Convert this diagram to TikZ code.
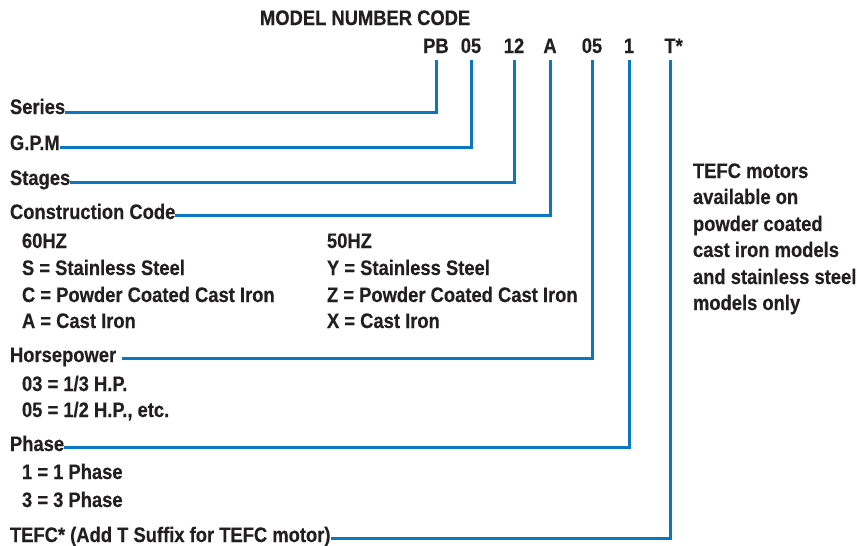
\documentclass[tikz,border=0pt]{standalone}
\usepackage{fontspec}
\setmainfont{Liberation Sans}[FakeStretch=0.875,BoldFeatures={FakeBold=0.4}]
\definecolor{lineblue}{HTML}{0A77C0}
\definecolor{txt}{HTML}{231F20}
\begin{document}
\begin{tikzpicture}[x=1pt,y=-1pt,
  lbl/.style={anchor=base west, inner sep=0pt, outer sep=0pt, font=\fontsize{21}{24}\selectfont\bfseries, text=txt},
  code/.style={anchor=base, inner sep=0pt, outer sep=0pt, font=\fontsize{21}{24}\selectfont\bfseries, text=txt},
  conn/.style={draw=lineblue, line width=3pt, line join=miter}]
\useasboundingbox (0,0) rectangle (857,546);

% title and code row
\node[lbl] (title) at (260,25) {MODEL NUMBER CODE};
\node[code] (pb) at (436,53) {PB};
\node[code] (gpm) at (471,53) {05};
\node[code] (stg) at (514,53) {12};
\node[code] (cc) at (550,53) {A};
\node[code] (hpc) at (592,53) {05};
\node[code] (ph) at (629,53) {1};
\node[code] (tf) at (670,53) {T\rlap{*}};

% labels
\node[lbl] (series) at (10,114) {Series};
\node[lbl] (gpml) at (10,150) {G.P.M};
\node[lbl] (stages) at (10,185) {Stages};
\node[lbl] (constr) at (10,219) {Construction Code};
\node[lbl] (hz60) at (22,248) {60HZ};
\node[lbl] (s60) at (22,275) {S = Stainless Steel};
\node[lbl] (c60) at (22,302) {C = Powder Coated Cast Iron};
\node[lbl] (a60) at (22,328) {A = Cast Iron};
\node[lbl] (hz50) at (327,248) {50HZ};
\node[lbl] (y50) at (327,275) {Y = Stainless Steel};
\node[lbl] (z50) at (327,302) {Z = Powder Coated Cast Iron};
\node[lbl] (x50) at (327,328) {X = Cast Iron};
\node[lbl] (hp) at (10,362) {Horsepower};
\node[lbl] (hp3) at (22,391) {03 = 1/3 H.P.};
\node[lbl] (hp5) at (22,417) {05 = 1/2 H.P., etc.};
\node[lbl] (phase) at (10,451) {Phase};
\node[lbl] (ph1) at (22,479) {1 = 1 Phase};
\node[lbl] (ph3) at (22,507) {3 = 3 Phase};
\node[lbl] (tefc) at (10,542) {TEFC* (Add T Suffix for TEFC motor)};

% note
\node[lbl] (n1) at (693,178) {TEFC motors};
\node[lbl] (n2) at (693,204) {available on};
\node[lbl] (n3) at (693,231) {powder coated};
\node[lbl] (n4) at (693,257) {cast iron models};
\node[lbl] (n5) at (693,284) {and stainless steel};
\node[lbl] (n6) at (693,310) {models only};

% connectors
\draw[conn] ([yshift=2pt]series.base east) -| ([yshift=-7pt]pb.south);
\draw[conn] ([yshift=3pt]gpml.base east) -| ([yshift=-7pt]gpm.south);
\draw[conn] ([yshift=3pt]stages.base east) -| ([yshift=-7pt]stg.south);
\draw[conn] ([yshift=4pt]constr.base east) -| ([yshift=-7pt]cc.south);
\draw[conn] ([xshift=6pt,yshift=4pt]hp.base east) -| ([yshift=-7pt]hpc.south);
\draw[conn] ([yshift=4pt]phase.base east) -| ([yshift=-7pt]ph.south);
\draw[conn] ([yshift=4pt]tefc.base east) -| ([yshift=-7pt]tf.south);
\end{tikzpicture}
\end{document}
